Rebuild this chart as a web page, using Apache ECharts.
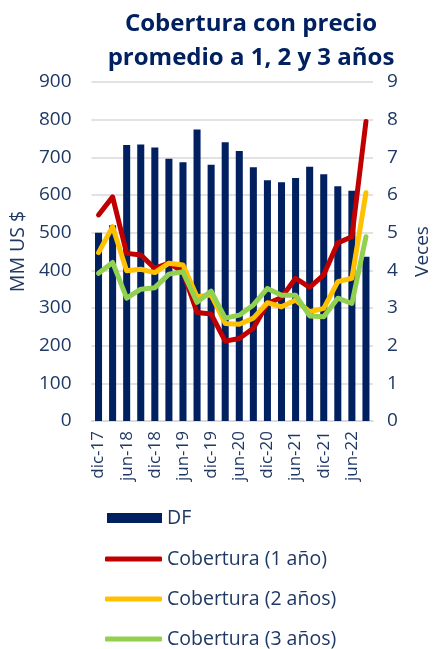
<!DOCTYPE html>
<html>
<head>
<meta charset="utf-8">
<script src="https://cdn.jsdelivr.net/npm/echarts@6/dist/echarts.min.js"></script>
<style>
  html, body { margin: 0; padding: 0; background: #fff; }
  #chart { width: 440px; height: 649px; }
</style>
</head>
<body>
<div id="chart"></div>
<script>
var categories = ['dic-17','mar-18','jun-18','sep-18','dic-18','mar-19','jun-19','sep-19','dic-19','mar-20',
                  'jun-20','sep-20','dic-20','mar-21','jun-21','sep-21','dic-21','mar-22','jun-22','sep-22'];
// DF, MM US $
var df = [500, 520, 733, 734, 726, 696, 687, 774, 680, 740, 717, 674, 639, 634, 645, 675, 655, 623, 611, 436];
// cobertura (veces)
var cob1 = [5.47, 5.95, 4.45, 4.41, 4.05, 4.19, 3.96, 2.88, 2.84, 2.12, 2.19, 2.46, 3.12, 3.28, 3.79, 3.55, 3.88, 4.73, 4.89, 7.95];
var cob2 = [4.47, 5.16, 3.99, 4.03, 3.94, 4.19, 4.14, 3.30, 3.35, 2.59, 2.57, 2.73, 3.14, 3.03, 3.21, 2.90, 2.99, 3.70, 3.79, 6.06];
var cob3 = [3.92, 4.21, 3.26, 3.50, 3.54, 3.90, 3.96, 3.15, 3.45, 2.73, 2.81, 3.08, 3.52, 3.34, 3.34, 2.79, 2.77, 3.26, 3.12, 4.89];

var navy = '#002060';
var txt = '#1F3864';
var font = "'Open Sans', 'Noto Sans', sans-serif";

var option = {
    animation: false,
    textStyle: { fontFamily: font },
    title: {
        text: 'Cobertura con precio\npromedio a 1, 2 y 3 años',
        left: 246, top: 2, textAlign: 'center',
        textStyle: { color: navy, fontSize: 24, fontWeight: 'bold', lineHeight: 34, fontFamily: font }
    },
    grid: { left: 90, right: 59, top: 82, bottom: 228 },
    legend: [
        {
            orient: 'vertical',
            left: 102, top: 503,
            itemWidth: 55, itemHeight: 10,
            textStyle: { color: txt, fontSize: 19.5, fontFamily: font },
            data: [{ name: 'DF', icon: 'rect' }]
        },
        {
            orient: 'vertical',
            left: 105, top: 549, height: 120,
            padding: 0,
            itemWidth: 57, itemHeight: 5,
            itemGap: 20,
            icon: 'roundRect',
            textStyle: { color: txt, fontSize: 19.5, fontFamily: font },
            data: ['Cobertura (1 año)', 'Cobertura (2 años)', 'Cobertura (3 años)']
        }
    ],
    xAxis: {
        type: 'category',
        data: categories,
        axisTick: { show: false },
        axisLine: { lineStyle: { color: '#D9D9D9', width: 1.5 } },
        axisLabel: { rotate: 90, interval: 1, color: txt, fontSize: 17, margin: 10 }
    },
    yAxis: [
        {
            type: 'value', min: 0, max: 900, interval: 100,
            name: 'MM US $', nameLocation: 'middle', nameGap: 59, nameRotate: 90,
            nameTextStyle: { color: txt, fontSize: 19.5 },
            axisLabel: { color: txt, fontSize: 19, margin: 20 },
            splitLine: { lineStyle: { color: '#D9D9D9', width: 1.5 } },
            axisLine: { show: false }, axisTick: { show: false }
        },
        {
            type: 'value', min: 0, max: 9, interval: 1,
            name: 'Veces', nameLocation: 'middle', nameGap: 40, nameRotate: 90,
            nameTextStyle: { color: txt, fontSize: 19 },
            axisLabel: { color: txt, fontSize: 19, margin: 14 },
            splitLine: { show: false },
            axisLine: { show: false }, axisTick: { show: false }
        }
    ],
    series: [
        {
            name: 'DF', type: 'bar', data: df, barWidth: '50%',
            itemStyle: { color: navy }
        },
        {
            name: 'Cobertura (1 año)', type: 'line', yAxisIndex: 1, data: cob1,
            symbol: 'none', lineStyle: { color: '#C00000', width: 5, cap: 'round', join: 'round' },
            itemStyle: { color: '#C00000' }
        },
        {
            name: 'Cobertura (2 años)', type: 'line', yAxisIndex: 1, data: cob2,
            symbol: 'none', lineStyle: { color: '#FFC000', width: 5, cap: 'round', join: 'round' },
            itemStyle: { color: '#FFC000' }
        },
        {
            name: 'Cobertura (3 años)', type: 'line', yAxisIndex: 1, data: cob3,
            symbol: 'none', lineStyle: { color: '#92D050', width: 5, cap: 'round', join: 'round' },
            itemStyle: { color: '#92D050' }
        }
    ]
};

var myChart = echarts.init(document.getElementById('chart'));
myChart.setOption(option, true);
</script>
</body>
</html>
